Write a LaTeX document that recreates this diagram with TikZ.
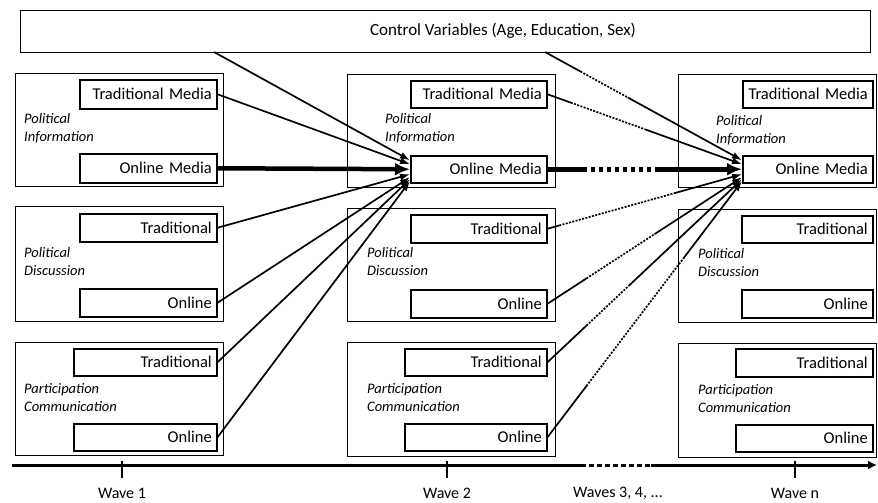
\documentclass[tikz,border=0pt]{standalone}
\usepackage{fontspec}
\setmainfont{Carlito}
\usetikzlibrary{arrows.meta,calc}
\newcommand\mixconn[5]{%
  \draw[conn,#1] (#2) -- ($(#2)!#4!(#3)$);
  \draw[conn,dotline,#1] ($(#2)!#4!(#3)$) -- ($(#2)!#5!(#3)$);
  \draw[conn,tip,#1] ($(#2)!#5!(#3)$) -- (#3);}
\begin{document}
\begin{tikzpicture}[x=1pt,y=-1pt,
  outer/.style={draw, line width=1.3pt, anchor=north west, inner sep=0pt},
  ibox/.style={draw, line width=1.5pt, anchor=north west, inner xsep=5pt, inner ysep=0pt, align=right, font=\fontsize{16.5}{18}\selectfont},
  cat/.style={anchor=west, align=left, inner sep=0pt, font=\fontsize{14.5}{18}\selectfont\itshape},
  conn/.style={line width=1.7pt},
  tip/.style={-{Latex[length=10pt,width=7pt]}},
  fatconn/.style={line width=4.5pt},
  fattip/.style={-{Latex[length=15pt,width=13pt]}},
  dotline/.style={dash pattern=on 2pt off 1.4pt},
  fatdots/.style={dash pattern=on 4.5pt off 3.5pt},
  wlabel/.style={font=\fontsize{16}{18}\selectfont, inner sep=0pt},
  tick/.style={line width=2pt},
  axis/.style={line width=3pt}]
\useasboundingbox (0,0) rectangle (878,503);

% control variables
\node[outer, minimum width=850pt, minimum height=42pt] (ctrl) at (20,10) {};
\node[font=\fontsize{17}{18}\selectfont] (ctrlt) at (503,31) {Control Variables (Age, Education, Sex)};
\coordinate (c1) at (214,52);
\coordinate (c2) at (545,52);

% ---- Wave 1
\node[outer, minimum width=208pt, minimum height=113pt] (w1pi) at (15,73) {};
\node[ibox, text width=127pt, minimum height=29pt] (w1pit) at (79,79) {Traditional Media};
\node[ibox, text width=127pt, minimum height=29pt] (w1pio) at (79,153) {Online Media};
\node[cat] (w1pil) at (24,128) {Political\\Information};

\node[outer, minimum width=208pt, minimum height=115pt] (w1pd) at (15,206) {};
\node[ibox, text width=127pt, minimum height=28pt] (w1pdt) at (79,213) {Traditional};
\node[ibox, text width=127pt, minimum height=28pt] (w1pdo) at (79,288) {Online};
\node[cat] (w1pdl) at (24,262) {Political\\Discussion};

\node[outer, minimum width=208pt, minimum height=113pt] (w1pc) at (15,342) {};
\node[ibox, text width=133pt, minimum height=27pt] (w1pct) at (73,348) {Traditional};
\node[ibox, text width=133pt, minimum height=27pt] (w1pco) at (73,423) {Online};
\node[cat] (w1pcl) at (24,398) {Participation\\Communication};

% ---- Wave 2
\node[outer, minimum width=208pt, minimum height=113pt] (w2pi) at (347,74) {};
\node[ibox, text width=126pt, minimum height=27pt] (w2pit) at (410,80) {Traditional Media};
\node[ibox, text width=126pt, minimum height=27pt] (w2pio) at (410,155) {Online Media};
\node[cat] (w2pil) at (385,128) {Political\\Information};

\node[outer, minimum width=208pt, minimum height=113pt] (w2pd) at (347,208) {};
\node[ibox, text width=126pt, minimum height=28pt] (w2pdt) at (410,214) {Traditional};
\node[ibox, text width=126pt, minimum height=28pt] (w2pdo) at (410,289) {Online};
\node[cat] (w2pdl) at (367,262) {Political\\Discussion};

\node[outer, minimum width=208pt, minimum height=114pt] (w2pc) at (347,342) {};
\node[ibox, text width=132pt, minimum height=27pt] (w2pct) at (404,348) {Traditional};
\node[ibox, text width=132pt, minimum height=27pt] (w2pco) at (404,423) {Online};
\node[cat] (w2pcl) at (367,398) {Participation\\Communication};

% ---- Wave n
\node[outer, minimum width=198pt, minimum height=113pt] (wnpi) at (678,74) {};
\node[ibox, text width=120pt, minimum height=27pt] (wnpit) at (742,80) {Traditional Media};
\node[ibox, text width=120pt, minimum height=27pt] (wnpio) at (742,155) {Online Media};
\node[cat] (wnpil) at (716,130) {Political\\Information};

\node[outer, minimum width=198pt, minimum height=113pt] (wnpd) at (678,209) {};
\node[ibox, text width=121pt, minimum height=27pt] (wnpdt) at (741,215) {Traditional};
\node[ibox, text width=121pt, minimum height=28pt] (wnpdo) at (741,289) {Online};
\node[cat] (wnpdl) at (698,263) {Political\\Discussion};

\node[outer, minimum width=198pt, minimum height=114pt] (wnpc) at (678,343) {};
\node[ibox, text width=127pt, minimum height=28pt] (wnpct) at (735,348) {Traditional};
\node[ibox, text width=127pt, minimum height=27pt] (wnpco) at (735,424) {Online};
\node[cat] (wnpcl) at (698,399) {Participation\\Communication};

% ---- arrow end points
\coordinate (e2a) at ([yshift=9pt]w2pio.west);
\coordinate (e2b) at ([yshift=5pt]w2pio.west);
\coordinate (e2c) at ([yshift=-5pt]w2pio.west);
\coordinate (e2d) at ([yshift=-8pt]w2pio.west);
\coordinate (e2e) at ([yshift=-10pt]w2pio.west);
\coordinate (e2f) at ([yshift=-12pt]w2pio.west);
\coordinate (ena) at ([yshift=9pt]wnpio.west);
\coordinate (enb) at ([yshift=5pt]wnpio.west);
\coordinate (enc) at ([yshift=-5pt]wnpio.west);
\coordinate (end) at ([yshift=-8pt]wnpio.west);
\coordinate (ene) at ([yshift=-10pt]wnpio.west);
\coordinate (enf) at ([yshift=-12pt]wnpio.west);

% ---- wave 1 -> wave 2
\draw[conn,tip] (c1) -- (e2a);
\draw[conn,tip] (w1pit.east) -- (e2b);
\draw[fatconn,fattip] (w1pio.east) -- (w2pio.west);
\draw[conn,tip] (w1pdt.east) -- (e2c);
\draw[conn,tip] (w1pdo.east) -- (e2d);
\draw[conn,tip] (w1pct.east) -- (e2e);
\draw[conn,tip] (w1pco.east) -- (e2f);

% ---- wave 2 -> wave n
\mixconn{}{c2}{ena}{0.18}{0.42}
\mixconn{}{w2pit.east}{enb}{0.12}{0.5}
\draw[fatconn] (w2pio.east) -- ($(w2pio.east)!0.18!(wnpio.west)$);
\draw[fatconn,fatdots] ($(w2pio.east)!0.18!(wnpio.west)$) -- ($(w2pio.east)!0.56!(wnpio.west)$);
\draw[fatconn,fattip] ($(w2pio.east)!0.56!(wnpio.west)$) -- (wnpio.west);
\mixconn{}{w2pdt.east}{enc}{0.06}{0.65}
\mixconn{}{w2pdo.east}{end}{0.2}{0.55}
\mixconn{}{w2pct.east}{ene}{0.2}{0.42}
\mixconn{}{w2pco.east}{enf}{0.2}{0.7}

% ---- time axis
\coordinate (tA) at (12,465);
\coordinate (tB) at (581,465);
\coordinate (tC) at (651,465);
\coordinate (tD) at (877,465);
\draw[axis] (tA) -- (tB);
\draw[axis,fatdots] (tB) -- (tC);
\draw[axis,-{Latex[length=9pt,width=9pt]}] (tC) -- (tD);

\node[wlabel] (wl1) at (122,493) {Wave 1};
\node[wlabel] (wl2) at (447,493) {Wave 2};
\node[wlabel] (wl3) at (618,493) {Waves 3, 4, ...};
\node[wlabel] (wln) at (795,493) {Wave n};
\coordinate (k1) at (122,461); \coordinate (k1b) at (122,478);
\coordinate (k2) at (447,461); \coordinate (k2b) at (447,478);
\coordinate (kn) at (795,461); \coordinate (knb) at (795,478);
\draw[tick] (k1) -- (k1b);
\draw[tick] (k2) -- (k2b);
\draw[tick] (kn) -- (knb);
\end{tikzpicture}
\end{document}
